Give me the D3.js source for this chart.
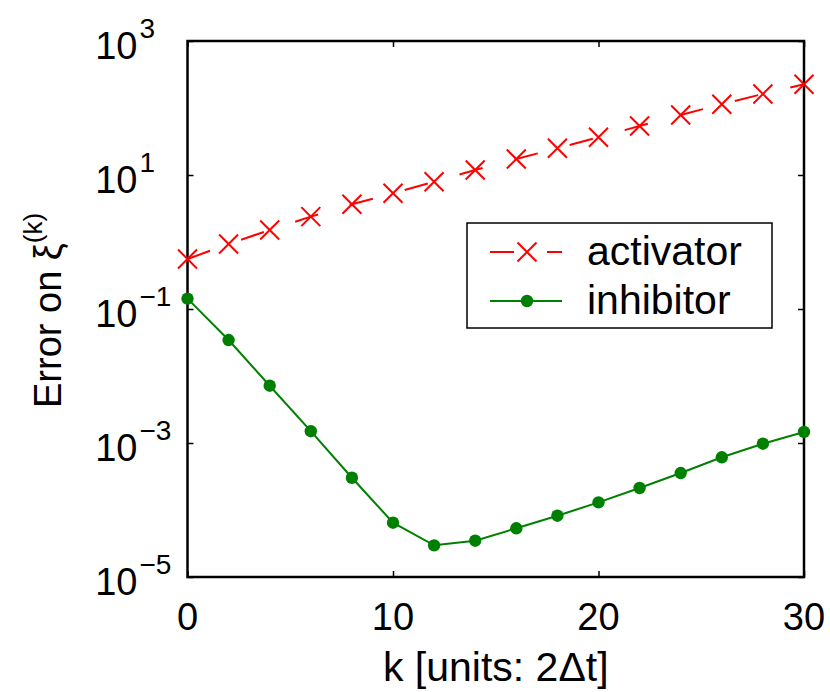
<!DOCTYPE html>
<html>
<head>
<meta charset="utf-8">
<script src="https://cdn.jsdelivr.net/npm/d3@7"></script>
<style>
  body { margin: 0; background: #fff; }
  svg { font-family: "Liberation Sans", Arial, Helvetica, sans-serif; }
</style>
</head>
<body>
<div id="chart"></div>
<script>
// values
var kValues = [0, 2, 4, 6, 8, 10, 12, 14, 16, 18, 20, 22, 24, 26, 28, 30];
var activator = [0.557, 0.933, 1.51, 2.39, 3.66, 5.33, 7.94, 11.9, 17.3, 25.1, 36.6, 53.8, 78.7, 114, 162, 226];
var inhibitor = [0.143, 0.0344, 0.00716, 0.00150, 3.03e-4, 6.46e-5, 2.97e-5, 3.48e-5, 5.33e-5, 8.22e-5, 1.30e-4, 2.13e-4, 3.56e-4, 6.12e-4, 9.77e-4, 1.46e-3];
var xTicks = [0, 10, 20, 30];
var yTicks = [1e-5, 1e-3, 1e-1, 1e1, 1e3];
var seriesNames = ["activator", "inhibitor"];

var W = 830, H = 692;
var margin = {top: 41, right: 26, bottom: 115, left: 187.5},
    width = W - margin.left - margin.right,
    height = H - margin.top - margin.bottom;

var x = d3.scaleLinear().domain([0, 30]).range([0, width]);
var y = d3.scaleLog().domain([1e-5, 1e3]).range([height, 0]);

var svg = d3.select("#chart").append("svg")
    .attr("width", W)
    .attr("height", H)
  .append("g")
    .attr("transform", "translate(" + margin.left + "," + margin.top + ")");

// ticks (inward, on all four sides)
var tickLen = 6;
function axisStyle(g) {
  g.select(".domain").remove();
  g.selectAll(".tick line").attr("stroke", "#000").attr("stroke-width", 1.5);
  g.selectAll(".tick text").remove();
}
svg.append("g").attr("transform", "translate(0," + height + ")")
  .call(d3.axisBottom(x).tickValues(xTicks).tickSize(-tickLen)).call(axisStyle);
svg.append("g")
  .call(d3.axisTop(x).tickValues(xTicks).tickSize(-tickLen)).call(axisStyle);
svg.append("g")
  .call(d3.axisLeft(y).tickValues(yTicks).tickSize(-tickLen)).call(axisStyle);
svg.append("g").attr("transform", "translate(" + width + ",0)")
  .call(d3.axisRight(y).tickValues(yTicks).tickSize(-tickLen)).call(axisStyle);

svg.append("rect")
  .attr("x", 0).attr("y", 0)
  .attr("width", width).attr("height", height)
  .attr("fill", "none")
  .attr("stroke", "#000")
  .attr("stroke-width", 2.5);

// tick labels
svg.selectAll(".xlab")
  .data(xTicks)
  .enter().append("text")
  .attr("class", "xlab")
  .attr("x", function (d) { return x(d); })
  .attr("y", height + 53)
  .attr("text-anchor", "middle")
  .style("font-size", "38px")
  .text(function (d) { return d; });

var ylab = svg.selectAll(".ylab")
  .data(yTicks)
  .enter().append("g")
  .attr("class", "ylab")
  .attr("transform", function (d) { return "translate(0," + y(d) + ")"; });
ylab.append("text")
  .attr("x", -50)
  .attr("y", 17.5)
  .attr("text-anchor", "end")
  .style("font-size", "38px")
  .text("10");
ylab.append("text")
  .attr("x", -48)
  .attr("y", -3)
  .style("font-size", "28px")
  .text(function (d) {
    var e = Math.round(Math.log10(d));
    return e < 0 ? "\u2212" + (-e) : "" + e;
  });

// axis titles
svg.append("text")
  .attr("x", width / 2)
  .attr("y", height + 104)
  .attr("text-anchor", "middle")
  .style("font-size", "41px")
  .text("k [units: 2\u0394t]");

var yt = svg.append("text")
  .attr("transform", "translate(-127," + (408 - margin.top) + ") rotate(-90)")
  .attr("text-anchor", "start")
  .style("font-size", "38px");
yt.append("tspan").text("Error on \u03be");
yt.append("tspan").attr("dy", -19).style("font-size", "26px").text("(k)");

// series
var red = "#ff0000", green = "#008000";
var actData = kValues.map(function (k, i) { return {k: k, v: activator[i]}; });
var inhData = kValues.map(function (k, i) { return {k: k, v: inhibitor[i]}; });

var line = d3.line()
  .x(function (d) { return x(d.k); })
  .y(function (d) { return y(d.v); });

svg.append("path")
  .datum(actData)
  .attr("d", line)
  .attr("fill", "none")
  .attr("stroke", red)
  .attr("stroke-width", 2)
  .attr("stroke-dasharray", "24,33");

svg.append("path")
  .datum(inhData)
  .attr("d", line)
  .attr("fill", "none")
  .attr("stroke", green)
  .attr("stroke-width", 2);

var xs = 9.5;
function crossPath(cx, cy) {
  return "M" + (cx - xs) + "," + (cy - xs) + "L" + (cx + xs) + "," + (cy + xs) +
         "M" + (cx - xs) + "," + (cy + xs) + "L" + (cx + xs) + "," + (cy - xs);
}

svg.selectAll(".xmark")
  .data(actData)
  .enter().append("path")
  .attr("class", "xmark")
  .attr("d", function (d) { return crossPath(x(d.k), y(d.v)); })
  .attr("stroke", red)
  .attr("stroke-width", 2)
  .attr("fill", "none");

svg.selectAll(".dot")
  .data(inhData)
  .enter().append("circle")
  .attr("class", "dot")
  .attr("cx", function (d) { return x(d.k); })
  .attr("cy", function (d) { return y(d.v); })
  .attr("r", 6.2)
  .attr("fill", green);

// legend
var lg = svg.append("g").attr("transform", "translate(" + (467 - margin.left) + "," + (223 - margin.top) + ")");
lg.append("rect")
  .attr("width", 305).attr("height", 105)
  .attr("fill", "#fff")
  .attr("stroke", "#000")
  .attr("stroke-width", 1.5);

var rows = [29, 78];
lg.append("line")
  .attr("x1", 23).attr("x2", 95).attr("y1", rows[0]).attr("y2", rows[0])
  .attr("stroke", red).attr("stroke-width", 2).attr("stroke-dasharray", "24,33");
lg.append("path")
  .attr("d", crossPath(60, rows[0]))
  .attr("stroke", red).attr("stroke-width", 2);
lg.append("line")
  .attr("x1", 23).attr("x2", 95).attr("y1", rows[1]).attr("y2", rows[1])
  .attr("stroke", green).attr("stroke-width", 2);
lg.append("circle")
  .attr("cx", 60).attr("cy", rows[1]).attr("r", 6.2).attr("fill", green);

lg.selectAll(".ltxt")
  .data(seriesNames)
  .enter().append("text")
  .attr("class", "ltxt")
  .attr("x", 120)
  .attr("y", function (d, i) { return rows[i] + 13; })
  .style("font-size", "41px")
  .text(function (d) { return d; });
</script>
</body>
</html>
